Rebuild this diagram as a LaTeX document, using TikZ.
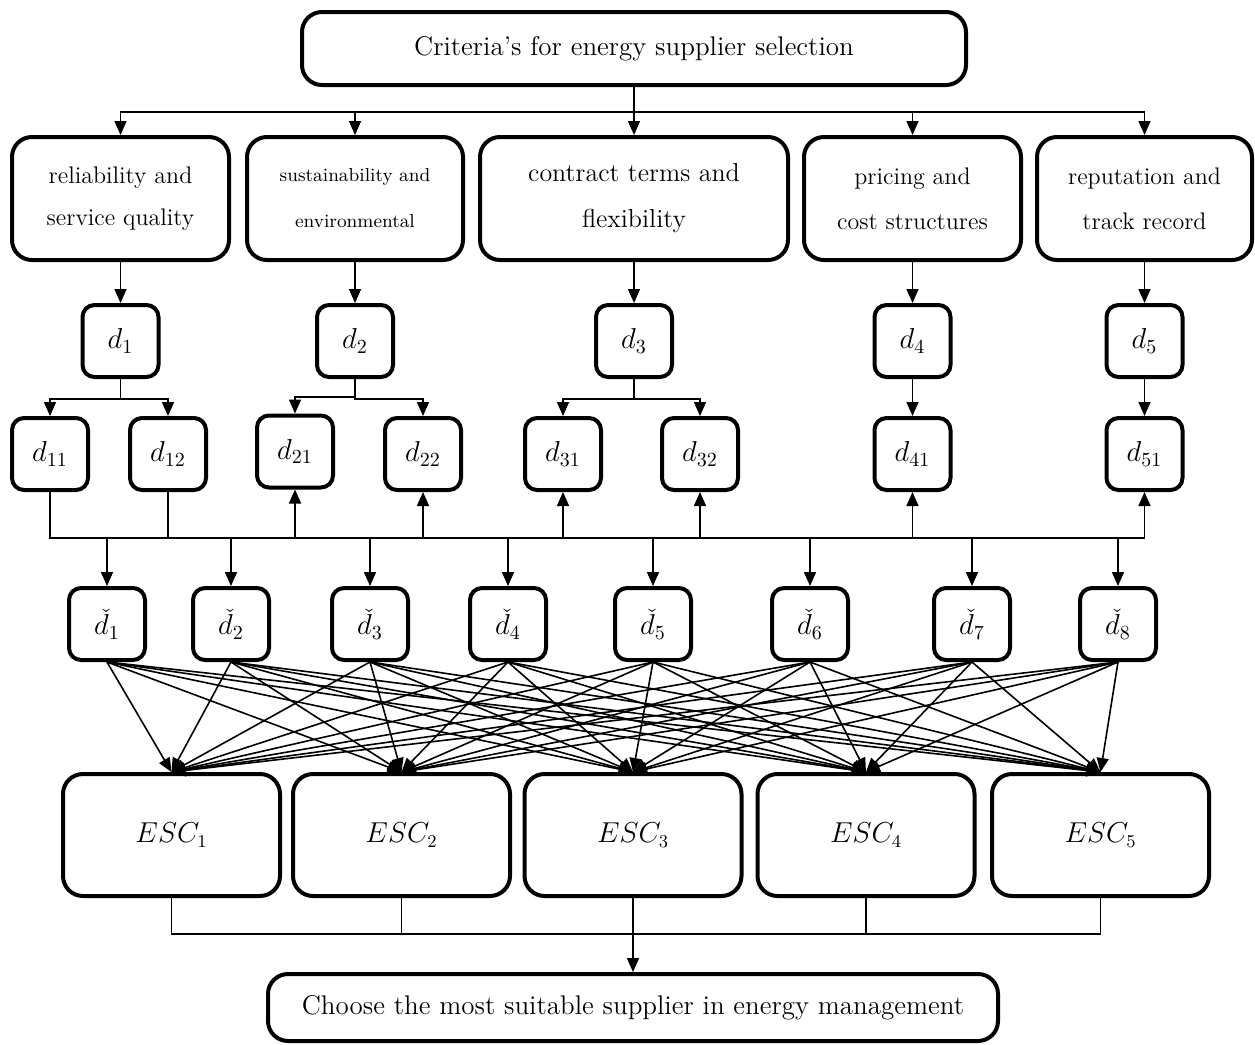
\documentclass[tikz,border=0pt]{standalone}
\usepackage{amsmath, amssymb}
\usepackage{tikz}
\usetikzlibrary{arrows.meta, positioning, calc}

\begin{document}
\begin{tikzpicture}[x=0.5pt, y=-0.5pt,
    critBox/.style={draw, line width=2pt, rounded corners=10pt, align=center, inner sep=0pt, minimum height=61.5pt},
    dBox/.style={draw, line width=2pt, rounded corners=6pt, minimum width=38pt, minimum height=36pt, inner sep=0pt, font=\fontsize{14}{16}\selectfont},
    escBox/.style={draw, line width=2pt, rounded corners=10pt, minimum width=108.5pt, minimum height=61pt, inner sep=0pt, font=\fontsize{13.5}{16}\selectfont},
    link/.style={line width=0.8pt, -{Triangle[length=7pt, width=6pt]}},
    wire/.style={line width=0.7pt},
    busWire/.style={line width=1.3pt}]
    \useasboundingbox (0,0) rectangle (1255,1045);

    \node[critBox, minimum width=332pt, minimum height=36.5pt, font=\fontsize{13.5}{16}\selectfont] (goal) at (634,48.5) {Criteria's for energy supplier selection};

    \node[critBox, minimum width=108.5pt, font=\fontsize{12}{21}\selectfont] (relq) at (120.5,198.5) {reliability and\\service quality};
    \node[critBox, minimum width=108pt, font=\fontsize{9.4}{23}\selectfont] (sust) at (355,198.5) {sustainability and\\environmental};
    \node[critBox, minimum width=154pt, font=\fontsize{13}{23}\selectfont] (cont) at (634,198.5) {contract terms and\\flexibility};
    \node[critBox, minimum width=108.5pt, font=\fontsize{12}{22.5}\selectfont] (pric) at (912.5,198.5) {pricing and\\cost structures};
    \node[critBox, minimum width=107.5pt, font=\fontsize{12}{22.5}\selectfont] (repu) at (1144.5,198.5) {reputation and\\track record};

    \node[dBox] (d1) at (120.5,341) {$d_1$};
    \node[dBox] (d2) at (355,341) {$d_2$};
    \node[dBox] (d3) at (634,341) {$d_3$};
    \node[dBox] (d4) at (912.5,341) {$d_4$};
    \node[dBox] (d5) at (1144.5,341) {$d_5$};

    \node[dBox] (d11) at (50,454) {$d_{11}$};
    \node[dBox] (d12) at (168,454) {$d_{12}$};
    \node[dBox] (d21) at (295,451.5) {$d_{21}$};
    \node[dBox] (d22) at (423,454) {$d_{22}$};
    \node[dBox] (d31) at (563,454) {$d_{31}$};
    \node[dBox] (d32) at (700,454) {$d_{32}$};
    \node[dBox] (d41) at (912.5,454) {$d_{41}$};
    \node[dBox] (d51) at (1144.5,454) {$d_{51}$};

    \foreach \x [count=\i] in {107,231,370,508,653,810,972,1118}
        \node[dBox] (c\i) at (\x,624) {$\check{d}_{\i}$};

    \foreach \x [count=\i] in {171.5,401.5,633,866,1100.5}
        \node[escBox] (esc\i) at (\x,835) {$ESC_{\i}$};

    \node[critBox, minimum width=365pt, minimum height=33.5pt, font=\fontsize{13.5}{16}\selectfont] (final) at (633,1007.5) {Choose the most suitable supplier in energy management};

    % criteria row
    \foreach \n in {relq,sust,cont,pric,repu}
        \draw[link] (goal.south) -- ++(0,25) -| (\n.north);
    \draw[link] (relq) -- (d1);
    \draw[link] (sust) -- (d2);
    \draw[link] (cont) -- (d3);
    \draw[link] (pric) -- (d4);
    \draw[link] (repu) -- (d5);

    % sub criteria
    \draw[link] (d1.south) -- ++(0,20) -| (d11.north);
    \draw[link] (d1.south) -- ++(0,20) -| (d12.north);
    \draw[link] (d2.south) -- ++(0,18) -| (d21.north);
    \draw[link] (d2.south) -- ++(0,20) -| (d22.north);
    \draw[link] (d3.south) -- ++(0,20) -| (d31.north);
    \draw[link] (d3.south) -- ++(0,20) -| (d32.north);
    \draw[link] (d4) -- (d41);
    \draw[link] (d5) -- (d51);

    \coordinate (busLow) at (0,538);
    \draw[busWire] (d11.south) |- (d51.south |- busLow);
    \draw[busWire] (d12.south) -- (d12.south |- busLow);
    \foreach \n in {d21,d22,d31,d32,d41,d51}
        \draw[link] (\n.south |- busLow) -- (\n.south);
    \foreach \i in {1,...,8}
        \draw[link] (c\i.north |- busLow) -- (c\i.north);

    % every criterion to every supplier
    \foreach \i in {1,...,8}
        \foreach \j in {1,...,5}
            \draw[link] (c\i.south) -- (esc\j.north);

    \coordinate (busEnd) at (0,934);
    \draw[wire] (esc1.south) |- (esc5.south |- busEnd) -- (esc5.south);
    \draw[wire] (esc2.south) -- (esc2.south |- busEnd);
    \draw[wire] (esc4.south) -- (esc4.south |- busEnd);
    \draw[link] (esc3.south) -- (final.north);
\end{tikzpicture}
\end{document}
